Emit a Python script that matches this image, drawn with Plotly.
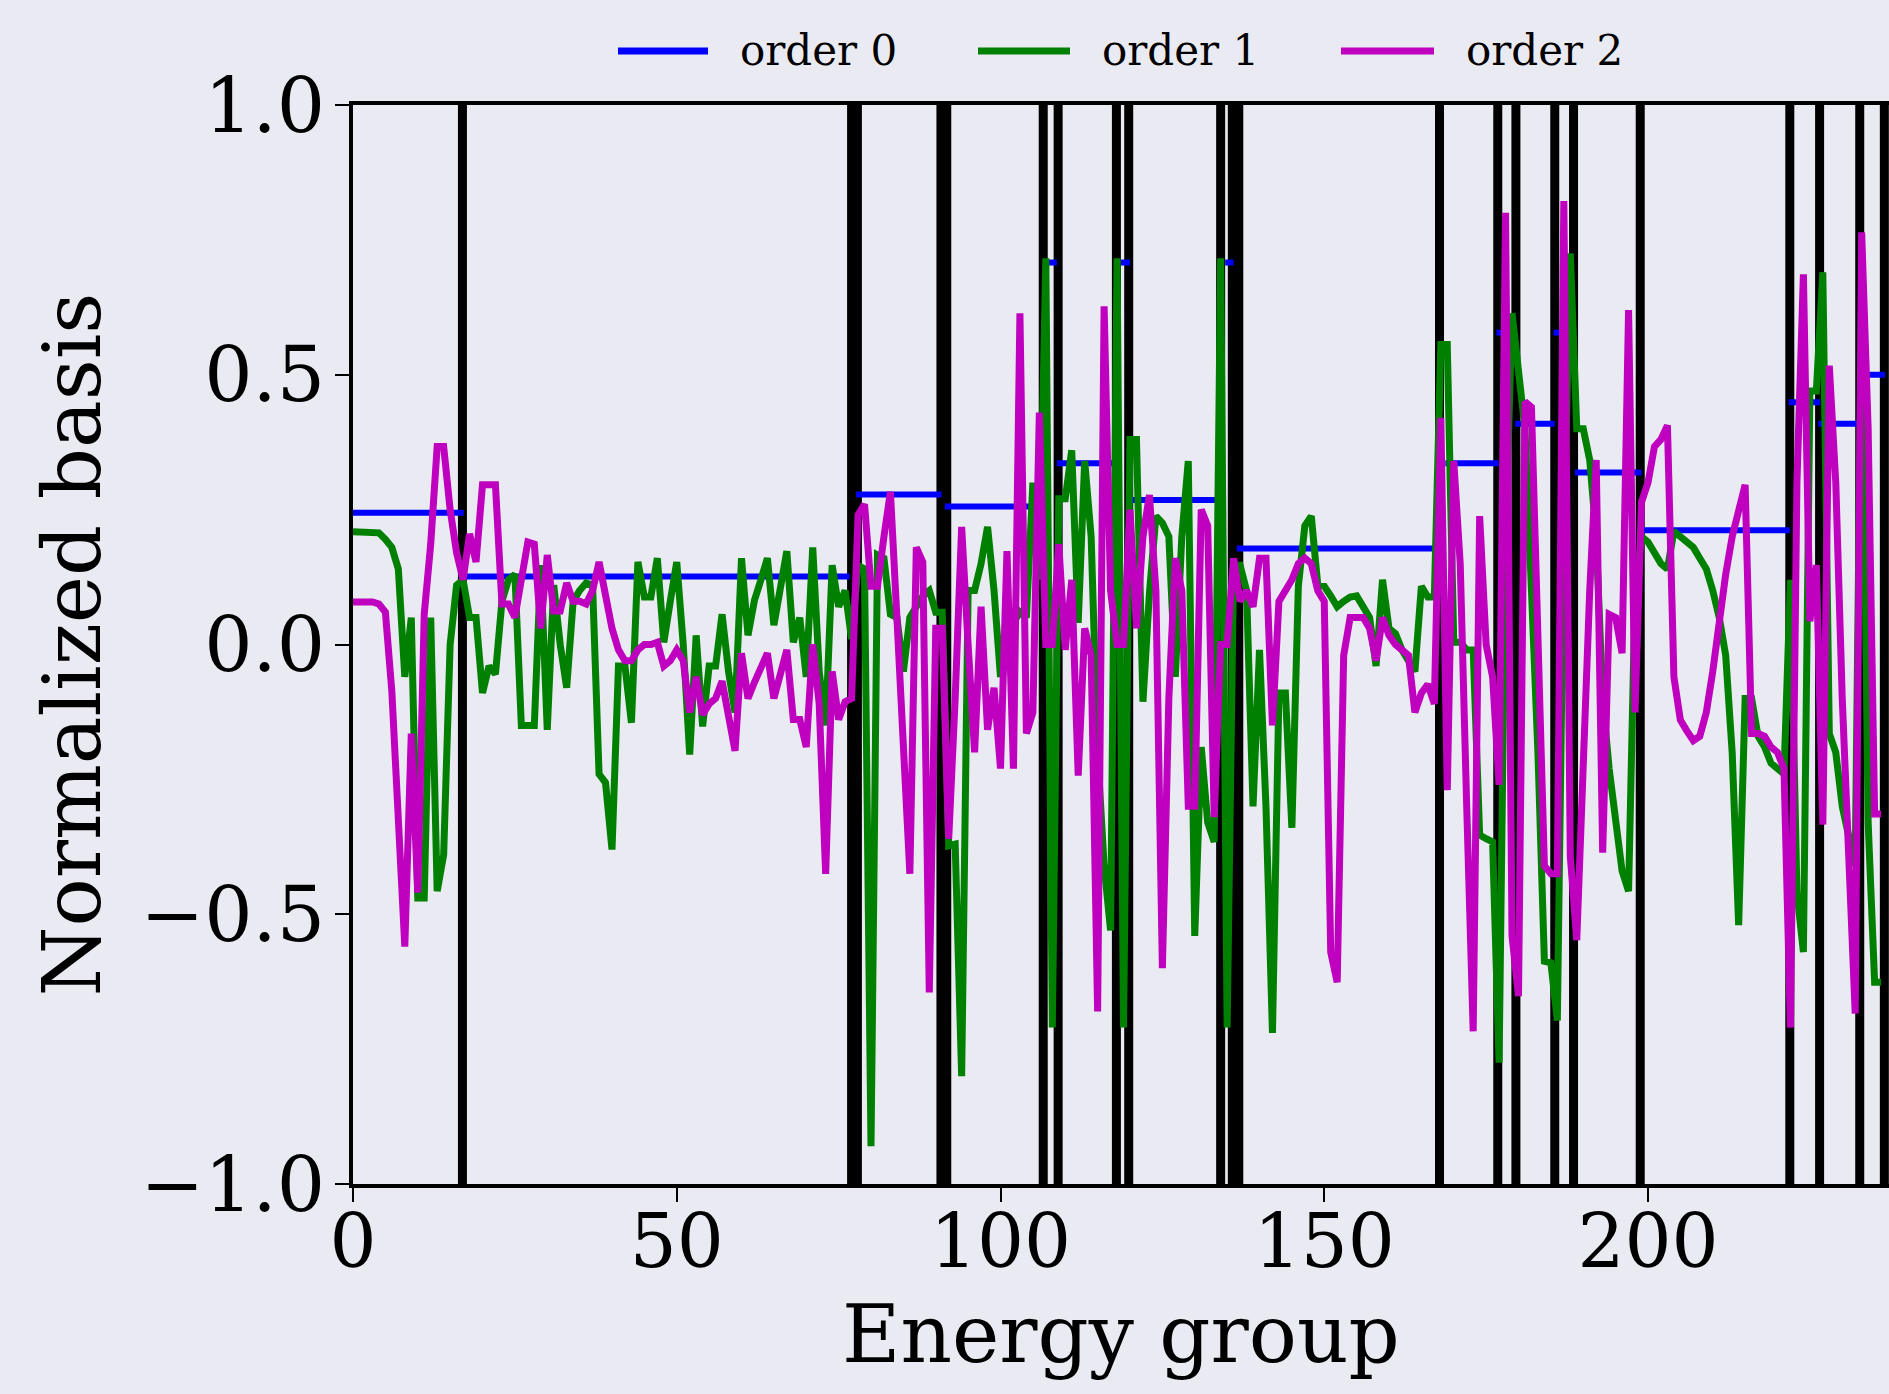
import plotly.graph_objects as go

# ---------------- data ----------------
groups = list(range(0, 237))

order1 = [0.209, 0.209, 0.209, 0.209, 0.207, 0.195, 0.18, 0.14, -0.06, 0.05,
          -0.47, -0.47, 0.05, -0.457, -0.39, 0.0, 0.11, 0.12, 0.05, 0.05,
          -0.09, -0.04, -0.055, 0.08, 0.12, 0.13, -0.15, -0.15, -0.15, 0.147,
          -0.158, 0.11, 0.0, -0.08, 0.08, 0.1, 0.114, 0.11, -0.24, -0.256,
          -0.38, -0.04, -0.04, -0.145, 0.153, 0.088, 0.088, 0.16, 0.004, 0.08,
          0.153, 0.0, -0.204, 0.017, -0.152, -0.04, -0.04, 0.056, -0.05, -0.126,
          0.16, 0.017, 0.082, 0.12, 0.16, 0.036, 0.1, 0.173, 0.004, 0.05,
          -0.06, 0.18, -0.05, -0.15, 0.147, 0.07, 0.1, 0.01, 0.147, 0.14,
          -0.93, 0.166, 0.16, 0.056, 0.05, -0.05, 0.05, 0.07, 0.09, 0.1,
          0.06, 0.06, -0.373, -0.37, -0.8, 0.1, 0.1, 0.15, 0.218, 0.1,
          -0.06, 0.05, 0.04, 0.06, 0.05, 0.3, 0.12, 0.716, -0.71, 0.27,
          0.27, 0.36, 0.04, 0.34, 0.2, -0.2, -0.41, -0.53, 0.716, -0.71,
          0.38, 0.38, -0.106, 0.095, 0.238, 0.225, 0.2, -0.06, 0.2, 0.34,
          -0.54, -0.19, -0.33, -0.366, 0.716, -0.71, 0.147, 0.147, 0.1, -0.3,
          -0.01, -0.3, -0.72, -0.09, -0.09, -0.34, 0.108, 0.22, 0.238, 0.11,
          0.108, 0.09, 0.07, 0.08, 0.088, 0.09, 0.07, 0.05, -0.04, 0.12,
          0.03, 0.02, -0.01, -0.03, -0.05, 0.108, 0.088, 0.088, 0.556, 0.556,
          0.004, 0.004, -0.01, -0.01, -0.353, -0.36, -0.366, -0.775, 0.2, 0.614,
          0.497, 0.4, 0.1, -0.2, -0.587, -0.59, -0.697, 0.2, 0.725, 0.4,
          0.4, 0.342, 0.2, -0.1, -0.23, -0.33, -0.42, -0.457, 0.095, 0.2,
          0.19, 0.17, 0.15, 0.14, 0.21, 0.2, 0.19, 0.18, 0.16, 0.14,
          0.1, 0.05, -0.02, -0.2, -0.52, -0.1, -0.1, -0.17, -0.19, -0.22,
          -0.23, -0.24, 0.12, -0.46, -0.57, 0.47, 0.47, 0.69, -0.165, -0.2,
          -0.3, -0.35, -0.41, 0.67, -0.33, -0.626, -0.626]

order2 = [0.079, 0.079, 0.079, 0.079, 0.075, 0.06, -0.087, -0.3, -0.56, -0.165,
          -0.46, 0.056, 0.186, 0.367, 0.367, 0.25, 0.17, 0.12, 0.205, 0.153,
          0.296, 0.296, 0.296, 0.075, 0.075, 0.05, 0.12, 0.19, 0.186, 0.03,
          0.166, 0.062, 0.062, 0.114, 0.08, 0.08, 0.075, 0.1, 0.153, 0.09,
          0.03, -0.01, -0.03, -0.03, -0.01, 0.0, 0.0, 0.004, -0.04, -0.03,
          -0.01, -0.03, -0.126, -0.06, -0.13, -0.11, -0.1, -0.068, -0.13, -0.197,
          -0.016, -0.1, -0.07, -0.04, -0.016, -0.1, -0.05, -0.01, -0.139, -0.139,
          -0.19, 0.0, -0.11, -0.425, -0.05, -0.139, -0.106, -0.1, 0.24, 0.26,
          0.108, 0.108, 0.2, 0.283, 0.05, -0.2, -0.425, 0.18, 0.153, -0.645,
          0.03, 0.03, -0.36, -0.1, 0.218, 0.0, -0.2, 0.07, -0.158, -0.08,
          -0.23, 0.173, -0.23, 0.614, -0.165, -0.126, 0.43, 0.0, 0.0, 0.186,
          -0.01, 0.12, -0.243, 0.03, -0.02, -0.68, 0.627, 0.1, 0.0, 0.0,
          0.25, 0.03, 0.2, 0.277, 0.1, -0.6, -0.1, 0.16, 0.1, -0.3,
          -0.3, 0.25, 0.22, -0.32, 0.0, 0.0, 0.16, 0.08, 0.1, 0.07,
          0.16, 0.16, -0.15, 0.08, 0.1, 0.12, 0.15, 0.16, 0.15, 0.1,
          0.08, -0.57, -0.626, -0.02, 0.05, 0.05, 0.05, 0.03, -0.03, 0.05,
          0.017, 0.0, -0.01, -0.02, -0.126, -0.09, -0.074, -0.11, 0.42, -0.27,
          0.34, 0.15, -0.3, -0.717, 0.238, 0.0, -0.06, -0.26, 0.8, -0.54,
          -0.652, 0.45, 0.44, 0.0, -0.41, -0.425, -0.425, 0.822, -0.392, -0.548,
          -0.2, 0.1, 0.342, -0.386, 0.056, 0.05, -0.016, 0.62, -0.126, 0.264,
          0.3, 0.367, 0.38, 0.406, -0.06, -0.14, -0.16, -0.178, -0.17, -0.126,
          -0.05, 0.05, 0.13, 0.2, 0.25, 0.296, -0.165, -0.165, -0.17, -0.19,
          -0.2, -0.23, -0.71, 0.3, 0.686, 0.043, 0.147, -0.334, 0.517, 0.3,
          -0.1, -0.4, -0.684, 0.764, 0.4, -0.314, -0.314]

# order 0: constant value on each coarse block
block_start = [0.0, 17.5, 77.7, 91.4, 107.3, 108.7, 118.6, 120.0, 134.7, 136.5,
               168.7, 176.6, 179.5, 185.4, 188.7, 198.8, 221.7, 226.3, 232.5]
block_end = [17.1, 76.7, 90.9, 106.9, 108.7, 117.4, 120.0, 133.6, 136.0, 167.6,
             176.9, 179.7, 185.6, 188.7, 199.0, 221.9, 226.6, 233.0, 236.6]
order0 = [0.244, 0.126, 0.278, 0.256, 0.708, 0.336, 0.708, 0.268, 0.708, 0.178,
          0.336, 0.578, 0.409, 0.578, 0.319, 0.212, 0.449, 0.409, 0.5]

# coarse group boundaries (black vertical lines)
boundaries = [16.9, 77.0, 77.9, 90.8, 91.7, 106.6, 108.9, 117.9, 119.8, 134.0,
              135.8, 136.8, 167.8, 176.8, 179.6, 185.6, 188.5, 198.8, 221.9,
              226.5, 232.7, 236.5]

x_ticks = [0, 50, 100, 150, 200]
y_ticks = [-1.0, -0.5, 0.0, 0.5, 1.0]
y_tick_text = ["\u22121.0", "\u22120.5", "0.0", "0.5", "1.0"]
legend_names = ["order 0", "order 1", "order 2"]
colors = ["#0000FF", "#008000", "#BF00BF"]

# ---------------- figure ----------------
W, H = 1889, 1394
L, R, T, B = 353, 0, 105, 210
FONT = "DejaVu Serif"
BG = "#EAEAF2"

fig = go.Figure()

bx, by = [], []
for b in boundaries:
    bx += [b, b, None]
    by += [-1.0, 1.0, None]
fig.add_trace(go.Scatter(x=bx, y=by, mode="lines",
                         line=dict(color="black", width=9),
                         showlegend=False, hoverinfo="skip"))

zx, zy = [], []
for s, e, v in zip(block_start, block_end, order0):
    zx += [s, e, None]
    zy += [v, v, None]
fig.add_trace(go.Scatter(x=zx, y=zy, mode="lines", name=legend_names[0],
                         line=dict(color=colors[0], width=6), showlegend=False))
fig.add_trace(go.Scatter(x=groups, y=order1, mode="lines", name=legend_names[1],
                         line=dict(color=colors[1], width=7), showlegend=False))
fig.add_trace(go.Scatter(x=groups, y=order2, mode="lines", name=legend_names[2],
                         line=dict(color=colors[2], width=7), showlegend=False))

plot_w = W - L - R
plot_h = H - T - B


def px_x(p):
    return (p - L) / plot_w


def px_y(p):
    return (H - B - p) / plot_h


# custom legend above the axes
leg_line = [(618, 708), (978, 1070), (1341, 1434)]
leg_text = [738, 1100, 1464]
shapes = []
annotations = []
ly = px_y(51)
for (a, b), t, c, name in zip(leg_line, leg_text, colors, legend_names):
    shapes.append(dict(type="line", xref="paper", yref="paper",
                       x0=px_x(a), x1=px_x(b), y0=ly, y1=ly,
                       line=dict(color=c, width=7)))
    annotations.append(dict(text=name, xref="paper", yref="paper",
                            x=px_x(t), y=ly, xanchor="left", yanchor="middle",
                            showarrow=False,
                            font=dict(family=FONT, size=42, color="black")))

annotations.append(dict(text="Energy group", xref="paper", yref="paper",
                        x=0.5, y=px_y(1334), xanchor="center", yanchor="middle",
                        showarrow=False,
                        font=dict(family=FONT, size=80, color="black")))
annotations.append(dict(text="Normalized basis", xref="paper", yref="paper",
                        x=px_x(72), y=0.5, xanchor="center", yanchor="middle",
                        textangle=-90, showarrow=False,
                        font=dict(family=FONT, size=80, color="black")))

fig.update_layout(
    width=W, height=H,
    margin=dict(l=L, r=R, t=T, b=B, pad=0),
    paper_bgcolor=BG, plot_bgcolor=BG,
    showlegend=False,
    shapes=shapes, annotations=annotations,
    xaxis=dict(range=[0, (W - L - R) / 6.475], tickvals=x_ticks,
               ticks="outside", ticklen=14, tickwidth=2, tickcolor="black",
               ticklabelstandoff=-24,
               showline=True, linecolor="black", linewidth=3.5, mirror=True,
               showgrid=False, zeroline=False,
               tickfont=dict(family=FONT, size=74, color="black")),
    yaxis=dict(range=[-1, 1], tickvals=y_ticks, ticktext=y_tick_text,
               ticks="outside", ticklen=14, tickwidth=2, tickcolor="black",
               ticklabelstandoff=-5,
               showline=True, linecolor="black", linewidth=3.5,
               showgrid=False, zeroline=False,
               tickfont=dict(family=FONT, size=76, color="black")),
)

fig.write_html(
    "out.html",
    config={"displayModeBar": False},
    post_script=("document.body.style.margin='0';"
                 "document.body.style.padding='0';"
                 "document.body.style.background='" + BG + "';"),
)
